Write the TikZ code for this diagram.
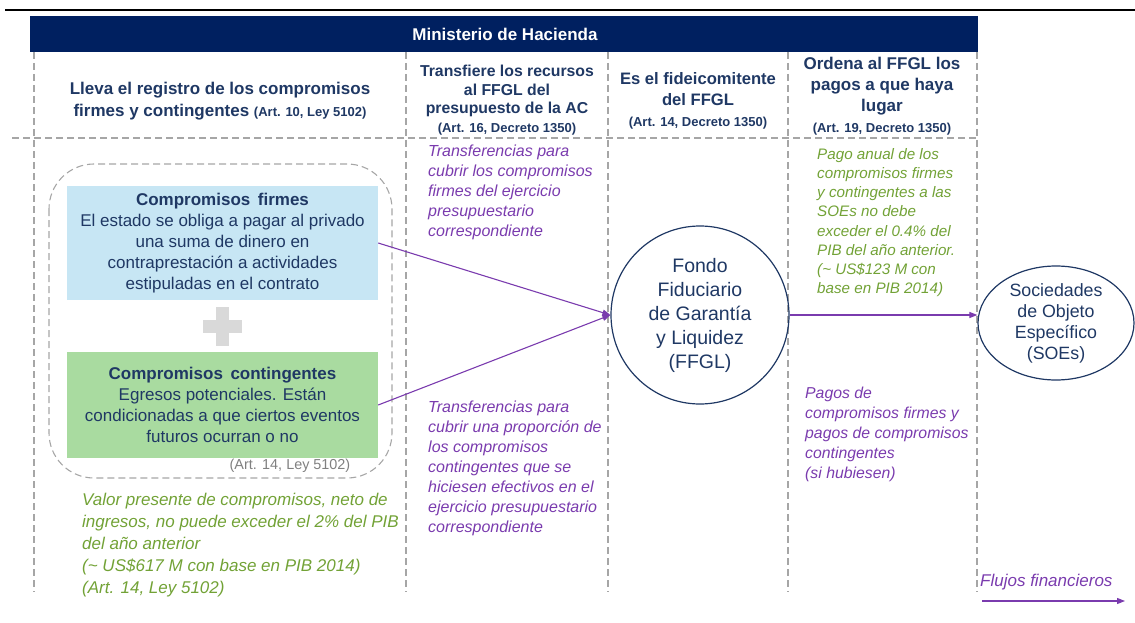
\documentclass[tikz,border=0pt]{standalone}
\usepackage{fontspec}
\setmainfont{Liberation Sans}
\usetikzlibrary{arrows.meta,shapes.geometric}
\definecolor{navy}{HTML}{002060}
\definecolor{txtblue}{HTML}{1F3864}
\definecolor{purp}{HTML}{7A3BAE}
\definecolor{grn}{HTML}{72A236}
\definecolor{lblue}{HTML}{C7E6F4}
\definecolor{lgreen}{HTML}{A9DBA0}
\definecolor{dgrey}{HTML}{A6A6A6}
\definecolor{plusgrey}{HTML}{D9D9D9}
\begin{document}
\begin{tikzpicture}[x=1pt,y=-1pt,
  gridline/.style={draw=dgrey, dash pattern=on 7pt off 4pt, line width=1.1pt},
  flow/.style={draw=purp, line width=1.1pt, -{Triangle[length=8pt,width=6pt]}},
  hdr/.style={text=txtblue, font=\bfseries, align=center, inner sep=0pt},
  boxtxt/.style={text=txtblue, align=center, inner sep=0pt, font=\fontsize{17}{21}\selectfont},
  note/.style={align=left, inner sep=0pt, anchor=north west, font=\itshape}
]
\useasboundingbox (0,0) rectangle (1135,623);

% top rule
\draw[line width=2.5pt] (5,10) -- (1135,10);

% header band
\fill[navy] (30,16) rectangle (978,52);
\node[text=white, font=\bfseries\fontsize{17}{19}\selectfont, inner sep=0pt] (mh) at (505,34) {Ministerio de Hacienda};

% grid
\foreach \x in {34,406,608,788,977} \draw[gridline] (\x,52) -- (\x,592);
\draw[gridline] (12,138) -- (977,138);

% column headers
\node[hdr, font=\bfseries\fontsize{17}{22}\selectfont] (h1) at (220,101)
  {Lleva el registro de los compromisos\\firmes y contingentes {\fontsize{13}{22}\selectfont (Art. 10, Ley 5102)}};
\node[hdr, font=\bfseries\fontsize{15.8}{18.5}\selectfont] (h2) at (507,100)
  {Transfiere los recursos\\al FFGL del\\presupuesto de la AC\\{\fontsize{13}{18.5}\selectfont (Art. 16, Decreto 1350)}};
\node[hdr, font=\bfseries\fontsize{16.6}{21}\selectfont] (h3) at (698,101)
  {Es el fideicomitente\\del FFGL\\{\fontsize{13}{21}\selectfont (Art. 14, Decreto 1350)}};
\node[hdr, font=\bfseries\fontsize{17}{21}\selectfont] (h4) at (882,96)
  {Ordena al FFGL los\\pagos a que haya\\lugar\\{\fontsize{13}{21}\selectfont (Art. 19, Decreto 1350)}};

% dashed group
\draw[gridline, rounded corners=45pt] (49,164) rectangle (392,478);

% boxes
\node[boxtxt, fill=lblue, minimum width=311pt, minimum height=114pt] (firm) at (222.5,243)
  {\textbf{Compromisos\, firmes}\\El estado se obliga a pagar al privado\\una suma de dinero en\\contraprestación a actividades\\estipuladas en el contrato};
\node[boxtxt, fill=lgreen, minimum width=311pt, minimum height=106pt] (cont) at (222.5,405)
  {\textbf{Compromisos\, contingentes}\\Egresos potenciales. Están\\condicionadas a que ciertos eventos\\futuros ocurran o no};

% plus sign
\fill[plusgrey] (203,320) rectangle (242,333);
\fill[plusgrey] (216,307) rectangle (229,346);

\node[text=gray, font=\fontsize{14.4}{16}\selectfont, inner sep=0pt] (art) at (290,466) {(Art. 14, Ley 5102)};

% circles
\node[circle, draw=txtblue, line width=1.2pt, minimum size=178pt, inner sep=0pt, text=txtblue,
      align=center, font=\fontsize{19.5}{24}\selectfont] (ffgl) at (700,315)
  {Fondo\\Fiduciario\\de Garantía\\y Liquidez\\(FFGL)};
\node[ellipse, draw=txtblue, line width=1.2pt, minimum width=156pt, minimum height=114pt, inner sep=0pt,
      text=txtblue, align=center, font=\fontsize{17.8}{21}\selectfont] (soe) at (1056,323)
  {Sociedades\\de Objeto\\Específico\\(SOEs)};

% flows
\draw[flow] (firm.east) -- (ffgl.west);
\draw[flow] (cont.east) -- (ffgl.west);
\draw[flow] (ffgl.east) -- (ffgl.east -| soe.west);

% notes
\node[note, text=grn, font=\itshape\fontsize{17}{22}\selectfont] (n1) at (82,493)
  {Valor presente de compromisos, neto de\\ingresos, no puede exceder el 2\% del PIB\\del año anterior\\(\textasciitilde{} US\$617 M con base en PIB 2014)\\(Art. 14, Ley 5102)};
\node[note, text=purp, font=\itshape\fontsize{16}{20}\selectfont] (n2) at (428,145)
  {Transferencias para\\cubrir los compromisos\\firmes del ejercicio\\presupuestario\\correspondiente};
\node[note, text=purp, font=\itshape\fontsize{16}{20}\selectfont] (n3) at (428,401)
  {Transferencias para\\cubrir una proporción de\\los compromisos\\contingentes que se\\hiciesen efectivos en el\\ejercicio presupuestario\\correspondiente};
\node[note, text=grn, font=\itshape\fontsize{15.2}{19.2}\selectfont] (n4) at (817,148)
  {Pago anual de los\\compromisos firmes\\y contingentes a las\\SOEs no debe\\exceder el 0.4\% del\\PIB del año anterior.\\(\textasciitilde{} US\$123 M con\\base en PIB 2014)};
\node[note, text=purp, font=\itshape\fontsize{15.8}{20}\selectfont] (n5) at (805,387)
  {Pagos de\\compromisos firmes y\\pagos de compromisos\\contingentes\\(si hubiesen)};

% legend
\node[note, text=purp, font=\itshape\fontsize{17}{19}\selectfont] (leg) at (980,574) {Flujos financieros};
\coordinate (lga) at (982,601);
\coordinate (lgb) at (1125,601);
\draw[flow] (lga) -- (lgb);
\end{tikzpicture}
\end{document}
